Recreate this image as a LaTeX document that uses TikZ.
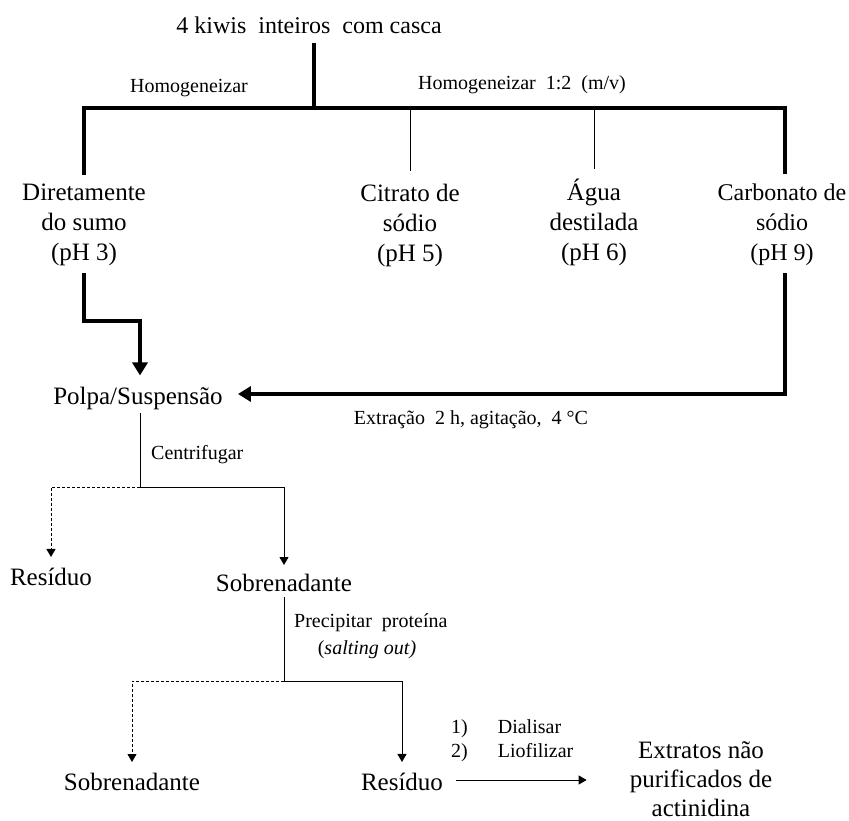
\documentclass[tikz,border=0pt]{standalone}
\usepackage{fontspec}
\setmainfont{Liberation Serif}
\usetikzlibrary{arrows.meta,
                positioning,
                calc}

\tikzset{
    main/.style={font=\fontsize{25}{30}\selectfont, align=center, inner sep=3pt},
    lbl/.style={font=\fontsize{20}{24}\selectfont, inner sep=0pt},
    heavy/.style={line width=4pt, line join=miter},
    fine/.style={line width=1pt},
    heavyarrow/.style={heavy, -{Triangle[length=13pt,width=15pt]}},
    finearrow/.style={fine, -{Triangle[length=8pt,width=9pt]}},
    dasharrow/.style={finearrow, dash pattern=on 3pt off 2pt}
}

\begin{document}
\begin{tikzpicture}[x=1pt,y=-1pt]
    \useasboundingbox (0,0) rectangle (849,821);

    % start and first split
    \node[main, font=\fontsize{24}{29}\selectfont] (kiwi) at (309,25) {4 kiwis\ \ inteiros\ \ com casca};
    \coordinate (split) at (314,108);

    \node[main] (sumo) at (84,225) {Diretamente\\do sumo\\(pH 3)};
    \node[main] (citrato) at (410,225) {Citrato de\\sódio\\(pH 5)};
    \node[main] (agua) at (594,222) {Água\\destilada\\(pH 6)};
    \node[main, font=\fontsize{24}{30}\selectfont, inner sep=1pt] (carbonato) at (782,225) {Carbonato de\\sódio\\(pH 9)};
    \coordinate (rcorner) at (785,108);

    \draw[heavy] ($(kiwi.south -| split)+(0,6)$) -- (split);
    \draw[heavy] ($(sumo.north)+(0,-6)$) -- (sumo.north |- split)
        -- (rcorner) -- ($(carbonato.north -| rcorner)+(0,-9)$);
    \draw[fine] (citrato.north |- split) -- ($(citrato.north)+(0,-9)$);
    \draw[fine] (agua.north |- split) -- ($(agua.north)+(0,-6)$);

    \node[lbl] (homog) at (189,88) {Homogeneizar};
    \node[lbl] (homog2) at (522,85) {Homogeneizar\ \ 1:2\ \ (m/v)};

    % extraction
    \node[main] (polpa) at (138,398) {Polpa/Suspensão};
    \draw[heavyarrow] ($(sumo.south)+(0,4)$) -- ++(0,48) -| ($(polpa.north)+(2,-8)$);
    \draw[heavyarrow] ($(carbonato.south -| rcorner)+(0,6)$) |- ($(polpa.east)+(12,-4)$);
    \node[lbl] (extr) at (471,420) {Extração\ \ 2 h, agitação,\ \ 4 °C};

    % centrifugation
    \coordinate (cfork) at (140,487);
    \draw[fine] (polpa.south -| cfork) -- (cfork);
    \node[lbl, anchor=west] (centr) at (151,455) {Centrifugar};

    \node[main] (res1) at (51,577) {Resíduo};
    \node[main] (sob1) at (284,583) {Sobrenadante};
    \draw[dasharrow] (cfork) -| ($(res1.north)+(0,-8)$);
    \draw[finearrow] (cfork) -| ($(sob1.north)+(0,-6)$);

    % salting out
    \coordinate (pfork) at (284,681);
    \draw[fine] ($(sob1.south)+(0,2)$) -- (pfork);
    \node[lbl, anchor=west] (precip) at (294,623) {Precipitar\ \ proteína};
    \node[lbl] (salt) at (367,650) {(\textit{salting out)}};

    \node[main] (sob2) at (132,782) {Sobrenadante};
    \node[main] (res2) at (402,782) {Resíduo};
    \draw[dasharrow] (pfork) -| ($(sob2.north)+(0,-8)$);
    \draw[finearrow] (pfork) -| ($(res2.north)+(0,-8)$);

    % final step
    \node[main, font=\fontsize{25}{29}\selectfont] (extratos) at (701,779) {Extratos não\\purificados de\\actinidina};
    \draw[finearrow, shorten >=40pt] ($(res2.east)+(10,-2)$) -- (extratos.west |- 0,780);
    \node[lbl, anchor=west, align=left] (steps) at (451,741)
        {1)\hspace{1.5em}Dialisar\\2)\hspace{1.5em}Liofilizar};
\end{tikzpicture}
\end{document}
